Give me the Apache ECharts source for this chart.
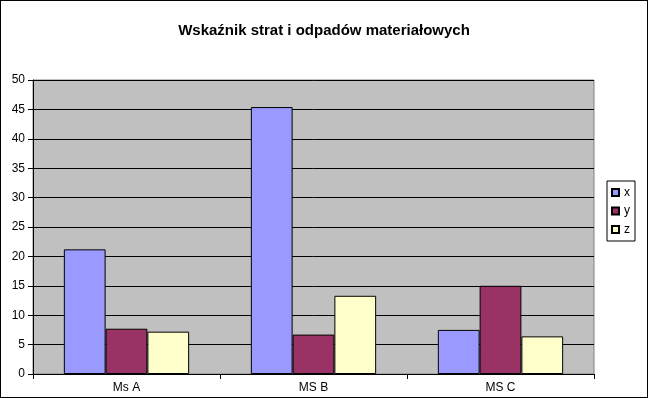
<!DOCTYPE html>
<html><head><meta charset="utf-8">
<script src="https://cdn.jsdelivr.net/npm/echarts@6/dist/echarts.min.js"></script>
<style>html,body{margin:0;padding:0;background:#fff}#wrap{position:relative;width:648px;height:398px}#c{width:648px;height:398px}#b{position:absolute;left:0;top:0;width:648px;height:398px;box-sizing:border-box;border:1px solid #000;pointer-events:none}</style>
</head><body><div id="wrap"><div id="c"></div><div id="b"></div></div>
<script>
const categories = ['Ms A', 'MS B', 'MS C'];
const seriesNames = ['x', 'y', 'z'];
const xValues = [21.2, 45.4, 7.5];
const yValues = [7.7, 6.7, 15.0];
const zValues = [7.2, 13.3, 6.4];
const colors = ['#9999FF', '#993366', '#FFFFCC'];
const yTicks = { min: 0, max: 50, interval: 5 };

const chart = echarts.init(document.getElementById('c'), null, { renderer: 'canvas' });
const font = 'Liberation Sans';
const data = [xValues, yValues, zValues];
chart.setOption({
  animation: false,
  textStyle: { fontFamily: font, color: '#000' },
  title: {
    text: 'Wskaźnik strat i odpadów materiałowych',
    left: 'center', top: 18,
    textStyle: { fontFamily: font, fontSize: 15, fontWeight: 'bold', color: '#000' }
  },
  legend: {
    orient: 'vertical', left: 607, top: 181,
    data: seriesNames.map(n => ({ name: n, icon: 'rect' })),
    itemWidth: 7, itemHeight: 7, itemGap: 6.5,
    padding: [5.5, 5, 5.5, 4],
    borderColor: '#000', borderWidth: 1,
    textStyle: { fontFamily: font, fontSize: 12, lineHeight: 12, color: '#000' }
  },
  grid: { left: 33, right: 54, top: 80, bottom: 24, show: true, backgroundColor: '#C0C0C0', borderColor: '#808080', borderWidth: 1 },
  xAxis: {
    type: 'category', data: categories,
    axisLine: { lineStyle: { color: '#000', width: 1 } },
    axisTick: { show: true, length: 5, lineStyle: { color: '#000' } },
    axisLabel: { fontFamily: font, fontSize: 12, color: '#000', margin: 8 }
  },
  yAxis: {
    type: 'value', min: yTicks.min, max: yTicks.max, interval: yTicks.interval,
    axisLine: { show: true, lineStyle: { color: '#000', width: 1 } },
    axisTick: { show: true, length: 5, lineStyle: { color: '#000' } },
    splitLine: { show: true, lineStyle: { color: '#000', width: 1 } },
    axisLabel: { fontFamily: font, fontSize: 12, color: '#000', margin: 8 }
  },
  series: seriesNames.map((n, i) => ({
    name: n, type: 'bar', data: data[i],
    barGap: '0%', barCategoryGap: '33%',
    itemStyle: { color: colors[i], borderColor: '#000', borderWidth: 1 }
  }))
});
</script></body></html>
